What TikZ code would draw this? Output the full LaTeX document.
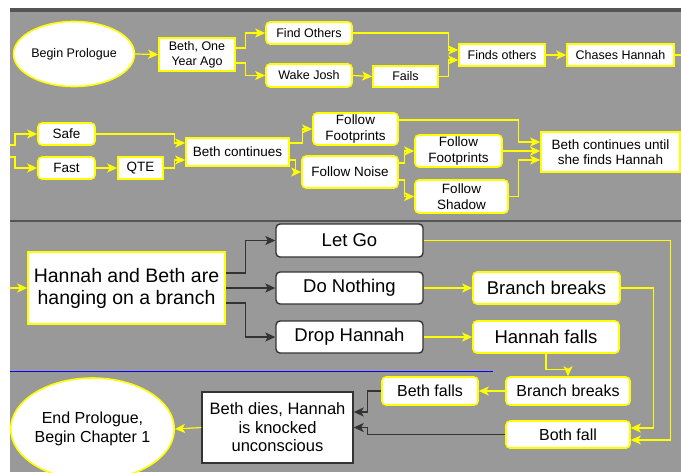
\documentclass[tikz,border=0pt]{standalone}
\usepackage{fontspec}
\setmainfont{Liberation Sans}
\usetikzlibrary{arrows.meta,shapes.geometric,calc}
\definecolor{bggray}{HTML}{999999}
\definecolor{bandgray}{HTML}{555555}
\definecolor{lnyellow}{HTML}{FFFF00}
\definecolor{darkb}{HTML}{333333}
\newcommand\myfs[2]{\fontsize{#1pt}{#2pt}\selectfont}
\tikzset{
  ybox/.style={draw=lnyellow, line width=1.6pt, fill=white, inner sep=0pt, align=center, text=black},
  yrbox/.style={ybox, rounded corners=4pt},
  dbox/.style={draw=darkb, line width=1.4pt, fill=white, inner sep=0pt, align=center, text=black},
  drbox/.style={dbox, rounded corners=4pt},
  yell/.style={ybox, ellipse},
  ya/.style={draw=lnyellow, line width=1.2pt, -{Stealth[length=10pt,width=9pt,inset=2.5pt]}},
  yl/.style={draw=lnyellow, line width=1.2pt},
  ba/.style={draw=darkb, line width=1.2pt, -{Stealth[length=10pt,width=9pt,inset=2.5pt]}},
  top/.style={font=\myfs{12.5}{15}},
  mid/.style={font=\myfs{13.5}{15.5}},
  big/.style={font=\myfs{18.5}{22}},
  med/.style={font=\myfs{16}{19}}
}
\begin{document}
\begin{tikzpicture}[x=1pt,y=-1pt]
\useasboundingbox (0,0) rectangle (681,472);
\fill[white] (0,0) rectangle (681,472);
\fill[bggray] (10,12) rectangle (681,472);
\fill[bandgray] (10,8) rectangle (681,12);
\draw[bandgray, line width=2pt] (10,221) -- (681,221);
\draw[blue, line width=1pt] (10,371) -- (493,371);

% ---- top row ----
\node[yell, top, minimum width=108pt, minimum height=65pt] (bp) at (74,54) {Begin Prologue};
\node[ybox, top, minimum width=76pt, minimum height=33pt] (b1y) at (197,54.5) {Beth, One\\Year Ago};
\node[yrbox, top, minimum width=86pt, minimum height=22pt] (fo) at (309,33) {Find Others};
\node[yrbox, top, minimum width=86pt, minimum height=23pt] (wj) at (309,75.5) {Wake Josh};
\node[ybox, top, minimum width=65pt, minimum height=21pt] (fails) at (405.5,76.5) {Fails};
\node[ybox, top, minimum width=86pt, minimum height=22pt] (fso) at (502,55) {Finds others};
\node[ybox, top, minimum width=107pt, minimum height=22pt] (ch) at (620.5,55) {Chases Hannah};
\coordinate (chout) at (681,55);

\draw[ya] (bp.east) -- (b1y.west);
\draw[ya] ([yshift=6.5pt]b1y.east) -- ++(10,0) |- (fo.west);
\draw[ya] ([yshift=-8.5pt]b1y.east) -- ++(10,0) |- (wj.west);
\draw[ya] (wj.east) -- (fails.west);
\draw[ya] (fo.east) -| ([xshift=-10pt,yshift=5pt]fso.west) -- ([yshift=5pt]fso.west);
\draw[ya] (fails.east) -| ([xshift=-10pt,yshift=-5pt]fso.west) -- ([yshift=-5pt]fso.west);
\draw[ya] (fso.east) -- (ch.west);
\draw[yl] (ch.east) -- (chout);

% ---- second row ----
\coordinate (lin1) at (10,145);
\coordinate (lin2) at (10,157);
\node[yrbox, mid, minimum width=57pt, minimum height=22pt] (safe) at (66.5,134) {Safe};
\node[yrbox, mid, minimum width=57pt, minimum height=22pt] (fast) at (66.5,168) {Fast};
\node[ybox, mid, minimum width=45pt, minimum height=22pt] (qte) at (140.5,168) {QTE};
\node[ybox, mid, minimum width=103pt, minimum height=28pt] (bc) at (237.5,152) {Beth continues};
\node[yrbox, mid, minimum width=85pt, minimum height=32pt] (ff1) at (355.5,129) {Follow\\Footprints};
\node[yrbox, mid, minimum width=96pt, minimum height=32pt] (fn) at (350,172) {Follow Noise};
\node[yrbox, mid, minimum width=87pt, minimum height=32pt] (ff2) at (458.5,151) {Follow\\Footprints};
\node[yrbox, mid, minimum width=93pt, minimum height=33pt] (fs) at (461.5,196.5) {Follow\\Shadow};
\node[ybox, mid, minimum width=139pt, minimum height=40pt] (bcu) at (610.5,152) {Beth continues until\\she finds Hannah};
\coordinate (bcuout) at (681,152);

\draw[ya] (lin1) -- ++(5,0) |- (safe.west);
\draw[ya] (lin2) -- ++(5,0) |- (fast.west);
\draw[ya] (fast.east) -- (qte.west);
\draw[ya] (safe.east) -| ([xshift=-11pt,yshift=9pt]bc.west) -- ([yshift=9pt]bc.west);
\draw[ya] (qte.east) -| ([xshift=-11pt,yshift=-8pt]bc.west) -- ([yshift=-8pt]bc.west);
\draw[ya] ([yshift=9pt]bc.east) -| ([xshift=-10pt]ff1.west) -- (ff1.west);
\draw[ya] ([yshift=-8pt]bc.east) -| ([xshift=-6pt]fn.west) -- (fn.west);
\draw[ya] ([yshift=9pt]fn.east) -| ([xshift=-10pt]ff2.west) -- (ff2.west);
\draw[ya] ([yshift=-8pt]fn.east) -| ([xshift=-10pt]fs.west) -- (fs.west);
\draw[ya] ([yshift=9pt]ff1.east) -| ([xshift=-22pt,yshift=10pt]bcu.west) -- ([yshift=10pt]bcu.west);
\draw[ya] (ff2.east) -- (ff2.east -| bcu.west);
\draw[ya] (fs.east) -| ([xshift=-22pt,yshift=-8pt]bcu.west) -- ([yshift=-8pt]bcu.west);
\draw[yl] (bcu.east) -- (bcuout);

% ---- bottom part ----
\coordinate (lin3) at (10,288);
\node[ybox, font=\myfs{19.5}{22}, minimum width=197pt, minimum height=72pt] (hb) at (126.5,288) {Hannah and Beth are\\hanging on a branch};
\node[drbox, big, minimum width=147pt, minimum height=33pt, text depth=0pt] (lg) at (349.5,240.5) {Let Go};
\node[drbox, big, minimum width=147pt, minimum height=32pt] (dn) at (349.5,288) {Do Nothing};
\node[drbox, big, minimum width=147pt, minimum height=32pt] (dh) at (349.5,337) {Drop Hannah};
\node[yrbox, big, minimum width=147pt, minimum height=32pt] (bb1) at (546.5,288) {Branch breaks};
\node[yrbox, big, minimum width=146pt, minimum height=32pt, text depth=0pt] (hf) at (546,337) {Hannah falls};
\node[yrbox, med, minimum width=96pt, minimum height=28pt, text depth=0pt] (bf) at (430,391) {Beth falls};
\node[yrbox, med, minimum width=124pt, minimum height=28pt] (bb2) at (568,391) {Branch breaks};
\node[yrbox, med, minimum width=124pt, minimum height=27pt, text depth=0pt] (both) at (568,434.5) {Both fall};
\node[dbox, font=\myfs{16.5}{18.5}, minimum width=151pt, minimum height=71pt] (bd) at (277.5,427.5) {Beth dies, Hannah\\is knocked\\unconscious};
\node[yell, med, minimum width=139pt, minimum height=102pt] (ep) at (92.5,429) {End Prologue,\\Begin Chapter 1};
\coordinate (lin4) at (10,428);

\draw[ya] (lin3) -- (hb.west);
\draw[ba] ([yshift=15pt]hb.east) -- ++(20,0) |- (lg.west);
\draw[ba] (hb.east) -- (dn.west);
\draw[ba] ([yshift=-15pt]hb.east) -- ++(20,0) |- (dh.west);
\draw[ya] (dn.east) -- (bb1.west);
\draw[ya] (dh.east) -- (hf.west);
\draw[ya] (lg.east) -| ([xshift=40pt,yshift=-5.5pt]both.east) -- ([yshift=-5.5pt]both.east);
\draw[ya] (bb1.east) -| ([xshift=23pt,yshift=6.5pt]both.east) -- ([yshift=6.5pt]both.east);
\draw[ya] (hf.south) -- ++(0,16) -| (bb2.north);
\draw[ya] (bb2.west) -- (bf.east);
\draw[ba] (bf.west) -- ++(-14,0) |- ([yshift=15.5pt]bd.east);
\draw[ba] (both.west) -- ++(-138,0) |- (bd.east);
\draw[ya] (bd.west) -- (ep.east);
\draw[yl] (lin4) -- (ep.west);
\end{tikzpicture}
\end{document}
